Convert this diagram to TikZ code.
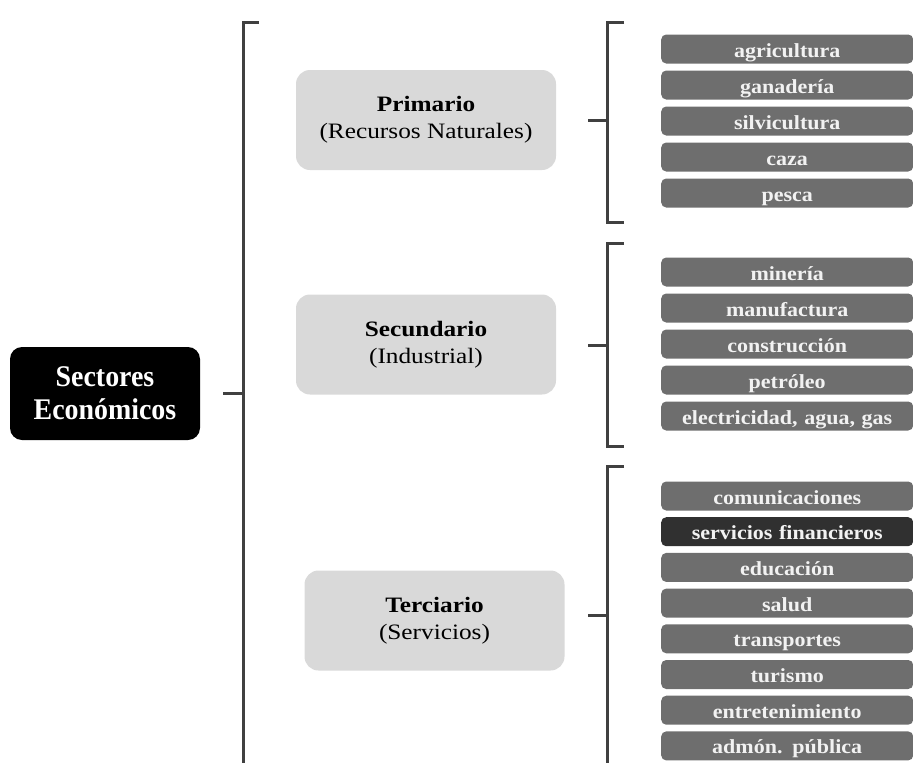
\documentclass[tikz,border=0pt]{standalone}
\usepackage{fontspec}
\setmainfont{Liberation Serif}
\newfontfamily\widefont[FakeStretch=1.15]{Liberation Serif}
\newfontfamily\itemfont[FakeStretch=1.1]{Liberation Serif}
\newfontfamily\tallfont[FakeStretch=0.93]{Liberation Serif}
\usetikzlibrary{positioning}

\definecolor{boxgray}{HTML}{D9D9D9}
\definecolor{bargray}{HTML}{6E6E6E}
\definecolor{bardark}{HTML}{303030}
\definecolor{bartext}{HTML}{F2F2F2}
\definecolor{bracegray}{HTML}{404040}

\begin{document}
\begin{tikzpicture}[x=1pt, y=-1pt,
				root/.style={rounded corners=12pt, fill=black, text=white, minimum width=190pt, minimum height=93pt, align=center, font=\tallfont\bfseries\fontsize{30}{33}\selectfont},
				sector/.style={rounded corners=14pt, fill=boxgray, minimum width=260pt, minimum height=100pt, align=center, font=\widefont\fontsize{22}{27}\selectfont},
				item/.style={rounded corners=5pt, fill=#1, text=bartext, minimum height=29pt, text width=252pt, text height=17pt, text depth=1pt, inner xsep=0pt, align=center, anchor=west, font=\itemfont\bfseries\fontsize{20}{22}\selectfont},
				item/.default=bargray,
				brace/.style={draw=bracegray, line width=3pt}
				]
				\useasboundingbox (0,0) rectangle (913,763);
				\clip (0,0) rectangle (913,763);
				% root and sectors
				\node[root] (root) at (105,393.5) {Sectores\\Económicos};
				\node[sector] (prim) at (426,120) {\textbf{Primario}\\(Recursos Naturales)};
				\node[sector] (sec) at (426,344.5) {\textbf{Secundario}\\(Industrial)};
				\node[sector] (ter) at (434.5,620.5) {\textbf{Terciario}\\(Servicios)};
				% big bracket
				\coordinate (bigtop) at (259,22);
				\coordinate (bigbot) at (243,775);
				\coordinate (bigmid) at (243,393);
				\draw[brace] (bigtop) -- (243,22) -- (bigbot);
				\draw[brace] (bigmid) -- ++(-20,0);
				% small brackets
				\foreach \name/\top/\bot/\mid in {pb/22/222/120, sb/243/446/345, tb/466/775/615} {
					\coordinate (\name top) at (624,\top);
					\coordinate (\name bot) at (624,\bot);
					\coordinate (\name mid) at (607,\mid);
					\draw[brace] (\name top) -- (607,\top) -- (607,\bot) -- (\name bot);
					\draw[brace] (\name mid) -- ++(-19,0);
				}
				% items
				\foreach \txt [count=\i] in {agricultura, ganadería, silvicultura, caza, pesca}
					\node[item] (prim\i) at (661,13+36*\i) {\txt};
				\foreach \txt [count=\i] in {minería, manufactura, construcción, petróleo, {electricidad, agua, gas}}
					\node[item] (sec\i) at (661,236+36*\i) {\txt};
				\foreach \txt/\shade [count=\i] in {comunicaciones/bargray, servicios financieros/bardark, educación/bargray, salud/bargray, transportes/bargray, turismo/bargray, entretenimiento/bargray, admón. pública/bargray}
					\node[item=\shade] (ter\i) at (661,460.3+35.7*\i) {\txt};
			\end{tikzpicture}
\end{document}
